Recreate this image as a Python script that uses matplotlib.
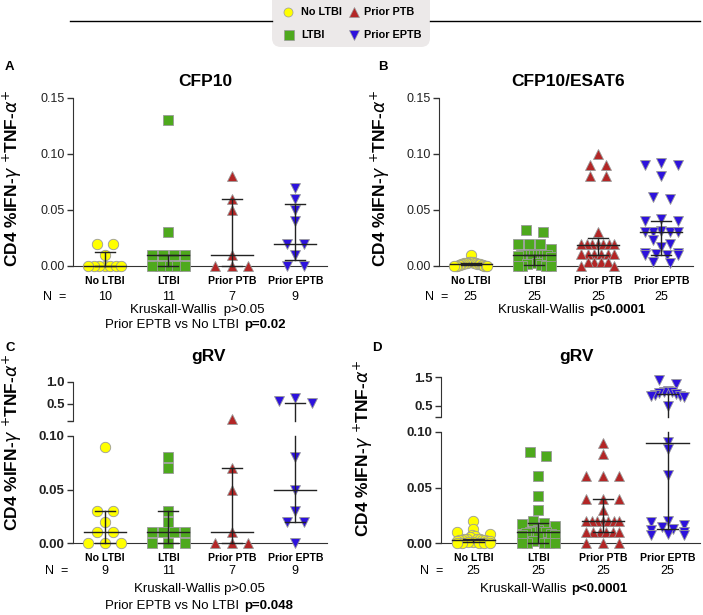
import numpy as np
import matplotlib
matplotlib.use('Agg')
import matplotlib.pyplot as plt
from matplotlib.patches import FancyBboxPatch
from matplotlib.transforms import blended_transform_factory

plt.rcParams['font.family'] = ['Liberation Sans', 'DejaVu Sans']
plt.rcParams['mathtext.fontset'] = 'dejavusans'

W, H = 703, 615

groups = ['No LTBI', 'LTBI', 'Prior PTB', 'Prior EPTB']
colors = ['#ffff00', '#4ea91d', '#b32626', '#2d12dc']
markers = ['o', 's', '^', 'v']

# A - CFP10
cfp_no = [0.02, 0.02, 0.01, 0, 0, 0, 0, 0, 0, 0]
cfp_ltbi = [0.13, 0.03, 0.01, 0.01, 0.01, 0.01, 0, 0, 0, 0, 0]
cfp_ptb = [0.08, 0.06, 0.05, 0.01, 0, 0, 0]
cfp_eptb = [0.07, 0.06, 0.05, 0.04, 0.02, 0.02, 0.01, 0, 0]
cfp_med = [0.0, 0.01, 0.01, 0.02]
cfp_q1 = [0.0, 0.0, 0.0, 0.005]
cfp_q3 = [0.0125, 0.01, 0.06, 0.055]

# B - CFP10/ESAT6
ce_no = [0.01, 0.004, 0.004, 0.004, 0.004, 0.003, 0.003, 0.003, 0.003, 0.003,
         0.002, 0.002, 0.002, 0.002, 0.002, 0.001, 0.001, 0.001, 0.001,
         0, 0, 0, 0, 0, 0]
ce_ltbi = [0.032, 0.03, 0.02, 0.02, 0.02, 0.015, 0.011, 0.01, 0.01, 0.01, 0.01,
           0.01, 0.01, 0.01, 0.01, 0.009, 0.008, 0.005, 0.003, 0.002, 0.001,
           0, 0, 0, 0]
ce_ptb = [0.1, 0.09, 0.09, 0.08, 0.08, 0.03, 0.02, 0.02, 0.02, 0.02, 0.02, 0.02,
          0.02, 0.011, 0.011, 0.011, 0.011, 0.011, 0.011, 0.004, 0.004, 0.004,
          0.004, 0, 0]
ce_eptb = [0.092, 0.09, 0.09, 0.08, 0.062, 0.06, 0.042, 0.04, 0.04, 0.031, 0.03,
           0.03, 0.03, 0.03, 0.023, 0.02, 0.017, 0.012, 0.012, 0.011, 0.01, 0.01,
           0.01, 0.004, 0.003]
ce_med = [0.002, 0.01, 0.019, 0.03]
ce_q1 = [0.0005, 0.001, 0.01, 0.01]
ce_q3 = [0.003, 0.01, 0.025, 0.04]

# C - gRV
g1_no = [0.09, 0.03, 0.03, 0.02, 0.01, 0.01, 0, 0, 0]
g1_ltbi = [0.08, 0.07, 0.03, 0.02, 0.01, 0.01, 0.01, 0.01, 0, 0, 0]
g1_ptb = [0.15, 0.07, 0.05, 0.01, 0, 0, 0]
g1_eptb = [0.63, 0.55, 0.51, 0.08, 0.05, 0.03, 0.02, 0.02, 0]
g1_med = [0.01, 0.01, 0.01, 0.05]
g1_q1 = [0.0, 0.0, 0.0, 0.02]
g1_q3 = [0.03, 0.03, 0.07, 0.52]

# D - gRV
g2_no = [0.02, 0.013, 0.01, 0.008, 0.007, 0.006, 0.005, 0.004, 0.004, 0.004,
         0.004, 0.003, 0.003, 0.003, 0.003, 0.002, 0.002, 0.002, 0.001, 0.001,
         0, 0, 0, 0, 0]
g2_ltbi = [0.082, 0.078, 0.06, 0.042, 0.03, 0.02, 0.018, 0.017, 0.015, 0.012,
           0.011, 0.01, 0.01, 0.01, 0.009, 0.008, 0.007, 0.007, 0.005, 0.002,
           0, 0, 0, 0, 0]
g2_ptb = [0.09, 0.08, 0.06, 0.06, 0.06, 0.04, 0.04, 0.04, 0.03, 0.02, 0.02, 0.02,
          0.02, 0.02, 0.02, 0.02, 0.01, 0.01, 0.01, 0.01, 0.01, 0.01, 0, 0, 0]
g2_eptb = [1.4, 1.27, 1.02, 1.0, 0.98, 0.95, 0.9, 0.88, 0.86, 0.85, 0.82, 0.5,
           0.091, 0.085, 0.061, 0.02, 0.019, 0.016, 0.014, 0.013, 0.012, 0.01,
           0.008, 0.007, 0.007]
g2_med = [0.003, 0.01, 0.02, 0.09]
g2_q1 = [0.001, 0.0, 0.01, 0.013]
g2_q3 = [0.004, 0.018, 0.04, 0.93]

ylab = r'CD4 %IFN-$\gamma$ $^{+}$TNF-$\alpha^{+}$'


def swarm(vals, to_px, px_cat, span=33.0, gap=16.5, tol=6.0):
    # GraphPad-like rows: points of nearly equal value are spread side by side
    vals = np.asarray(vals, float)
    offs = np.zeros(len(vals))
    rows = []
    for i in np.argsort(-vals, kind='stable'):
        if rows and to_px(rows[-1][0]) - to_px(vals[i]) <= tol:
            rows[-1][1].append(i)
        else:
            rows.append((vals[i], [i]))
    for _, idx in rows:
        n = len(idx)
        if n == 1:
            continue
        step = min(gap, span / (n - 1))
        pos = (np.arange(n) - (n - 1) / 2) * step
        pos = pos[np.argsort(np.abs(pos), kind='stable')]
        for k, i in enumerate(idx):
            offs[i] = pos[k] / px_cat
    return offs


fig = plt.figure(figsize=(W / 100, H / 100), dpi=100)
ov = fig.add_axes([0, 0, 1, 1])
ov.set_xlim(0, W)
ov.set_ylim(H, 0)
ov.axis('off')


def add_ax(left, top, right, bottom):
    return fig.add_axes([left / W, 1 - bottom / H, (right - left) / W, (bottom - top) / H])


def style(ax, bold, bottom=True):
    ax.patch.set_visible(False)
    ax.spines['top'].set_visible(False)
    ax.spines['right'].set_visible(False)
    ax.spines['left'].set_color('#333333')
    if bottom:
        ax.spines['bottom'].set_color('#333333')
        ax.set_xticks(range(4), groups, fontweight='bold', fontsize=7.6)
        ax.tick_params(axis='x', length=0, pad=7)
    else:
        ax.spines['bottom'].set_visible(False)
        ax.set_xticks([])
    ax.tick_params(axis='y', direction='out', length=4, width=1, color='#333333',
                   labelsize=9.5 if bold else 9, pad=2, labelcolor='#222222')
    ax.set_xlim(-0.5, 3.5)


def panel(lo, hi, data, med, q1, q3, to_px, px_cat):
    for i, vals in enumerate(data):
        v = np.asarray(vals, float)
        x = i + swarm(v, to_px, px_cat)
        kw = dict(linestyle='none', marker=markers[i], ms=7.5, mfc=colors[i],
                  mec='#9a9a9a', mew=0.6, clip_on=False, zorder=3)
        if hi is not None:
            up = v > 0.1
            hi.plot(x[up], v[up], **kw)
            lo.plot(x[~up], v[~up], **kw)
        else:
            lo.plot(x, v, **kw)
        lk = dict(color='#222222', lw=1, clip_on=False, zorder=4)

        def hline(val, hw):
            a = hi if (hi is not None and val > 0.1) else lo
            a.plot([i - hw, i + hw], [val, val], **lk)
        hline(med[i], 0.33)
        hline(q1[i], 0.16)
        hline(q3[i], 0.16)
        if hi is not None and q3[i] > 0.1:
            lo.plot([i, i], [q1[i], 0.1], **lk)
            hi.plot([i, i], [0.1, q3[i]], **lk)
        else:
            lo.plot([i, i], [q1[i], q3[i]], **lk)


# legend at the top
ov.plot([70, 272], [21, 21], color='black', lw=1)
ov.plot([430, 700], [21, 21], color='black', lw=1)
ov.add_patch(FancyBboxPatch((272, -12), 158, 59, boxstyle='round,pad=0,rounding_size=9',
                            fc='#ece9e9', ec='none'))
leg_xy = [(288, 12), (289, 35), (354, 12), (354, 35)]
leg_tx = [301, 301, 364, 364]
for i in range(4):
    ov.plot(*leg_xy[i], marker=markers[i], ms=6.5, mfc=colors[i], mec='#9a9a9a',
            mew=0.5, linestyle='none')
    ov.text(leg_tx[i], leg_xy[i][1], groups[i], fontsize=7.8, fontweight='bold',
            va='center', ha='left')

# A
axA = add_ax(73, 98, 327, 266)
style(axA, False)
axA.set_ylim(0, 0.15)
axA.set_yticks([0, 0.05, 0.10, 0.15], ['0.00', '0.05', '0.10', '0.15'])
panel(axA, None, [cfp_no, cfp_ltbi, cfp_ptb, cfp_eptb], cfp_med, cfp_q1, cfp_q3,
      lambda v: v * 1120, 63.5)

# B
axB = add_ax(439, 98, 693, 266)
style(axB, False)
axB.set_ylim(0, 0.15)
axB.set_yticks([0, 0.05, 0.10, 0.15], ['0.00', '0.05', '0.10', '0.15'])
panel(axB, None, [ce_no, ce_ltbi, ce_ptb, ce_eptb], ce_med, ce_q1, ce_q3,
      lambda v: v * 1120, 63.5)

# C (broken axis)
axC = add_ax(73, 436, 327, 543)
axC2 = add_ax(73, 382, 327, 420.7)
style(axC, True)
style(axC2, True, bottom=False)
axC.set_ylim(0, 0.1)
axC.set_yticks([0, 0.05, 0.10], ['0.00', '0.05', '0.10'], fontweight='bold')
axC2.set_ylim(0.1, 1.0)
axC2.set_yticks([0.1, 0.5, 1.0], ['', '0.5', '1.0'], fontweight='bold')
panel(axC, axC2, [g1_no, g1_ltbi, g1_ptb, g1_eptb], g1_med, g1_q1, g1_q3,
      lambda v: v * 1070 if v <= 0.1 else 122.3 + (v - 0.1) * 44.1, 63.5)

# D (broken axis)
axD = add_ax(441, 432, 700, 543)
axD2 = add_ax(441, 377.3, 700, 417.3)
style(axD, True)
style(axD2, True, bottom=False)
axD.set_ylim(0, 0.1)
axD.set_yticks([0, 0.05, 0.10], ['0.00', '0.05', '0.10'], fontweight='bold')
axD2.set_ylim(0.1, 1.5)
axD2.set_yticks([0.1, 0.5, 1.5], ['', '0.5', '1.5'], fontweight='bold')
panel(axD, axD2, [g2_no, g2_ltbi, g2_ptb, g2_eptb], g2_med, g2_q1, g2_q3,
      lambda v: v * 1104 if v <= 0.1 else 125.4 + (v - 0.1) * 28.6, 64.75)

# letters, titles, y labels
for s, x, y in [('A', 5, 67), ('B', 378, 67), ('C', 5, 348), ('D', 372, 348)]:
    ov.text(x, y, s, fontsize=9.5, fontweight='bold', va='center', ha='left')
for s, x, y in [('CFP10', 205, 82), ('CFP10/ESAT6', 568, 82), ('gRV', 208, 357), ('gRV', 577, 357)]:
    ov.text(x, y, s, fontsize=12.5, fontweight='bold', va='center', ha='center')
for x, y in [(12, 178), (380, 178), (12, 442), (363, 448)]:
    ov.text(x, y, ylab, fontsize=12.5, fontweight='bold', rotation=90, va='center', ha='center')

# N counts
for ax, data, y, xn in [(axA, [cfp_no, cfp_ltbi, cfp_ptb, cfp_eptb], 297, 55),
                        (axB, [ce_no, ce_ltbi, ce_ptb, ce_eptb], 297, 437),
                        (axC, [g1_no, g1_ltbi, g1_ptb, g1_eptb], 571, 57),
                        (axD, [g2_no, g2_ltbi, g2_ptb, g2_eptb], 571, 432)]:
    tr = blended_transform_factory(ax.transData, ov.transData)
    for i, d in enumerate(data):
        ov.text(i, y, str(len(d)), transform=tr, fontsize=9, ha='center', va='center')
    ov.text(xn, y, 'N  =', fontsize=9, ha='center', va='center')

# statistics text
ov.text(197, 310, 'Kruskall-Wallis  p>0.05', fontsize=9.5, ha='center', va='center')
ov.text(243, 325, 'Prior EPTB vs No LTBI ', fontsize=9.5, ha='right', va='center')
ov.text(244, 325, 'p=0.02', fontsize=9.5, ha='left', va='center', fontweight='bold')
ov.text(588, 310, 'Kruskall-Wallis ', fontsize=9.5, ha='right', va='center')
ov.text(589, 310, 'p<0.0001', fontsize=9.5, ha='left', va='center', fontweight='bold')
ov.text(199, 589, 'Kruskall-Wallis p>0.05', fontsize=9.5, ha='center', va='center')
ov.text(243, 606, 'Prior EPTB vs No LTBI ', fontsize=9.5, ha='right', va='center')
ov.text(244, 606, 'p=0.048', fontsize=9.5, ha='left', va='center', fontweight='bold')
ov.text(570, 589, 'Kruskall-Wallis ', fontsize=9.5, ha='right', va='center')
ov.text(571, 589, 'p<0.0001', fontsize=9.5, ha='left', va='center', fontweight='bold')

fig.savefig('out.png', dpi=100)
